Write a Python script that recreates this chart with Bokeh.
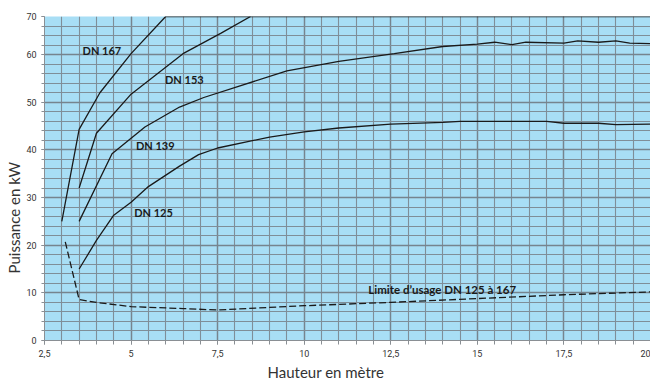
import math
from bokeh.plotting import figure
from bokeh.models import Range1d, FixedTicker, ColumnDataSource, Title
from bokeh.core.properties import value
from bokeh.embed import file_html
from bokeh.resources import INLINE

# ---- data -------------------------------------------------------------
x_ticks = [2.5, 5, 7.5, 10, 12.5, 15, 17.5, 20]
x_tick_labels = ["2,5", "5", "7,5", "10", "12,5", "15", "17,5", "20"]
x_minor = [2.5 + 0.5 * i for i in range(36)]
y_ticks = [0, 10, 20, 30, 40, 50, 60, 68]
y_tick_labels = ["0", "10", "20", "30", "40", "50", "60", "70"]
y_minor = list(range(0, 69, 2))

dn167_x = [3.0, 3.5, 4.1, 5.0, 6.0, 20.0]
dn167_y = [25, 44.3, 52, 60.2, 68, 68]

dn153_x = [3.5, 4.0, 5.0, 6.5, 7.6, 8.45]
dn153_y = [32, 43.5, 51.7, 60.2, 64.5, 68]

dn139_x = [3.5, 4.45, 5.4, 6.4, 7.1, 9.5, 11, 12.6, 14, 15, 15.5, 16, 16.4,
           17.5, 17.9, 18.5, 19, 19.4, 20]
dn139_y = [25, 39.2, 44.8, 49, 51, 56.6, 58.6, 60.2, 61.7, 62.2, 62.6, 62.1,
           62.6, 62.4, 62.9, 62.6, 62.9, 62.4, 62.3]

dn125_x = [3.5, 4.0, 4.5, 5.0, 5.5, 6.4, 6.95, 7.5, 9.0, 10, 11, 12.5, 14,
           14.5, 17, 17.5, 18.5, 19, 20]
dn125_y = [15, 21, 26.3, 29, 32.3, 36.6, 39, 40.4, 42.7, 43.8, 44.6, 45.4,
           45.8, 46, 46, 45.6, 45.6, 45.3, 45.4]

limit_x = [3.1, 3.5, 4.0, 5.0, 6.5, 7.5, 10, 12.5, 15, 17.5, 20]
limit_y = [20.7, 8.6, 8.0, 7.1, 6.7, 6.4, 7.3, 8.0, 8.8, 9.6, 10.2]

curve_names = ["DN 167", "DN 153", "DN 139", "DN 125"]
curve_label_x = [3.6, 5.98, 5.14, 5.09]
curve_label_y = [60.8, 54.8, 41.0, 26.8]

limit_name = "Limite d\u2019usage DN 125 \u00e0 167"
limit_label_x = [11.85]
limit_label_y = [10.6]

x_title = "Hauteur en m\u00e8tre"
y_title = "Puissance en kW"

# ---- figure -----------------------------------------------------------
p = figure(width=650, height=381, output_backend="svg", toolbar_location=None,
           x_range=Range1d(2.5, 20), y_range=Range1d(0, 68),
           min_border_left=44, min_border_right=0, min_border_top=16,
           min_border_bottom=40,
           background_fill_color="#a8def5", border_fill_color="white",
           outline_line_color=None)

grid_major = "#76848e"
grid_minor = "#7f8e98"

p.xaxis.ticker = FixedTicker(ticks=x_ticks, minor_ticks=x_minor)
p.xaxis.major_label_overrides = dict(zip(x_ticks, x_tick_labels))
p.yaxis.ticker = FixedTicker(ticks=y_ticks, minor_ticks=y_minor)
p.yaxis.major_label_overrides = dict(zip(y_ticks, y_tick_labels))

for ax in (p.xaxis, p.yaxis):
    ax.axis_line_color = "#8a8f94"
    ax.major_tick_line_color = "#8a8f94"
    ax.minor_tick_line_color = "#8a8f94"
    ax.major_tick_in = 0
    ax.minor_tick_in = 0
    ax.major_label_text_font = "Roboto"
    ax.major_label_text_font_size = "9px"
    ax.major_label_text_color = "#333333"

p.xaxis.major_tick_out = 4
p.xaxis.minor_tick_out = 4
p.xaxis.major_label_standoff = 5
p.yaxis.major_tick_out = 3
p.yaxis.minor_tick_out = 3
p.yaxis.major_label_standoff = 5

p.xgrid.grid_line_color = grid_major
p.xgrid.grid_line_width = 1.4
p.xgrid.minor_grid_line_color = grid_minor
p.xgrid.minor_grid_line_width = 1.1
p.ygrid.grid_line_color = grid_major
p.ygrid.grid_line_width = 1.4
p.ygrid.minor_grid_line_color = grid_minor
p.ygrid.minor_grid_line_width = 1.1

line_color = "#1a1a1a"
for xs, ys in ((dn167_x, dn167_y), (dn153_x, dn153_y),
               (dn139_x, dn139_y), (dn125_x, dn125_y)):
    p.line(xs, ys, line_color=line_color, line_width=1.3)

p.line(limit_x, limit_y, line_color=line_color, line_width=1.3,
       line_dash="7 3")

lab_src = ColumnDataSource(dict(x=curve_label_x, y=curve_label_y,
                                t=curve_names))
p.text(x="x", y="y", text="t", source=lab_src,
       text_font=value("Lato"), text_font_style="bold",
       text_font_size="11px", text_color=line_color,
       text_align="left", text_baseline="middle")

lim_src = ColumnDataSource(dict(x=limit_label_x, y=limit_label_y,
                                t=[limit_name]))
p.text(x="x", y="y", text="t", source=lim_src,
       text_font=value("Lato"), text_font_style="bold",
       text_font_size="11.5px", text_color=line_color,
       text_align="left", text_baseline="middle")

p.add_layout(Title(text=x_title, text_font="Lato", text_font_size="15px",
                   text_font_style="normal", text_color="#333333",
                   align="left", offset=223, standoff=2), "below")
p.add_layout(Title(text=y_title, text_font="Lato", text_font_size="15px",
                   text_font_style="normal", text_color="#333333",
                   align="left", offset=67, standoff=2), "left")

open("out.html", "w").write(file_html(p, INLINE))
